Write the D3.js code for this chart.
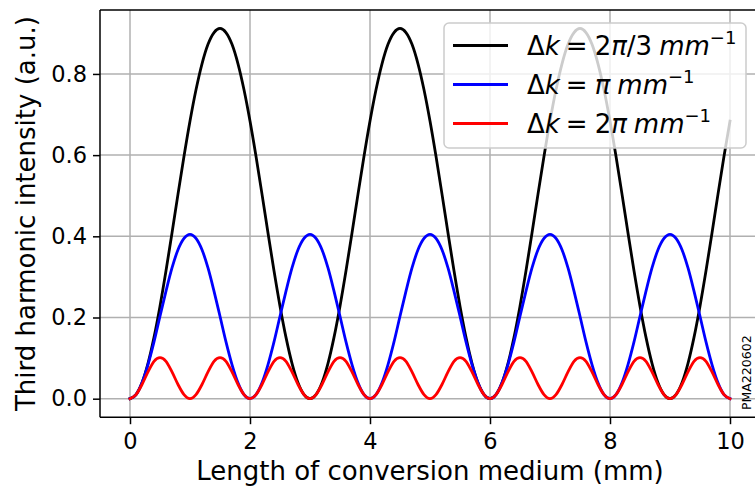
<!DOCTYPE html>
<html>
<head>
<meta charset="utf-8">
<script src="https://cdn.jsdelivr.net/npm/d3@7"></script>
<style>
  html, body { margin: 0; padding: 0; background: #fff; }
  svg { display: block; font-family: "DejaVu Sans", sans-serif; }
</style>
</head>
<body>
<svg id="chart" width="755" height="486"></svg>
<script>
// Sample positions along the medium (mm), every 0.1 mm from 0 to 10
const lengthMm = d3.range(101).map(i => i / 10);

// Third harmonic intensity (a.u.) for each phase mismatch
const intensityTwoPiThird = [
  0, 0.010, 0.039, 0.087, 0.151, 0.228, 0.315, 0.408, 0.504, 0.597,
  0.684, 0.761, 0.825, 0.873, 0.902, 0.912, 0.902, 0.873, 0.825, 0.761,
  0.684, 0.597, 0.504, 0.408, 0.315, 0.228, 0.151, 0.087, 0.039, 0.010,
  0, 0.010, 0.039, 0.087, 0.151, 0.228, 0.315, 0.408, 0.504, 0.597,
  0.684, 0.761, 0.825, 0.873, 0.902, 0.912, 0.902, 0.873, 0.825, 0.761,
  0.684, 0.597, 0.504, 0.408, 0.315, 0.228, 0.151, 0.087, 0.039, 0.010,
  0, 0.010, 0.039, 0.087, 0.151, 0.228, 0.315, 0.408, 0.504, 0.597,
  0.684, 0.761, 0.825, 0.873, 0.902, 0.912, 0.902, 0.873, 0.825, 0.761,
  0.684, 0.597, 0.504, 0.408, 0.315, 0.228, 0.151, 0.087, 0.039, 0.010,
  0, 0.010, 0.039, 0.087, 0.151, 0.228, 0.315, 0.408, 0.504, 0.597,
  0.684
];

const intensityPi = [
  0, 0.010, 0.039, 0.084, 0.140, 0.203, 0.265, 0.322, 0.367, 0.395,
  0.405, 0.395, 0.367, 0.322, 0.265, 0.203, 0.140, 0.084, 0.039, 0.010,
  0, 0.010, 0.039, 0.084, 0.140, 0.203, 0.265, 0.322, 0.367, 0.395,
  0.405, 0.395, 0.367, 0.322, 0.265, 0.203, 0.140, 0.084, 0.039, 0.010,
  0, 0.010, 0.039, 0.084, 0.140, 0.203, 0.265, 0.322, 0.367, 0.395,
  0.405, 0.395, 0.367, 0.322, 0.265, 0.203, 0.140, 0.084, 0.039, 0.010,
  0, 0.010, 0.039, 0.084, 0.140, 0.203, 0.265, 0.322, 0.367, 0.395,
  0.405, 0.395, 0.367, 0.322, 0.265, 0.203, 0.140, 0.084, 0.039, 0.010,
  0, 0.010, 0.039, 0.084, 0.140, 0.203, 0.265, 0.322, 0.367, 0.395,
  0.405, 0.395, 0.367, 0.322, 0.265, 0.203, 0.140, 0.084, 0.039, 0.010,
  0
];

const intensityTwoPi = [
  0, 0.010, 0.035, 0.066, 0.092, 0.101, 0.092, 0.066, 0.035, 0.010,
  0, 0.010, 0.035, 0.066, 0.092, 0.101, 0.092, 0.066, 0.035, 0.010,
  0, 0.010, 0.035, 0.066, 0.092, 0.101, 0.092, 0.066, 0.035, 0.010,
  0, 0.010, 0.035, 0.066, 0.092, 0.101, 0.092, 0.066, 0.035, 0.010,
  0, 0.010, 0.035, 0.066, 0.092, 0.101, 0.092, 0.066, 0.035, 0.010,
  0, 0.010, 0.035, 0.066, 0.092, 0.101, 0.092, 0.066, 0.035, 0.010,
  0, 0.010, 0.035, 0.066, 0.092, 0.101, 0.092, 0.066, 0.035, 0.010,
  0, 0.010, 0.035, 0.066, 0.092, 0.101, 0.092, 0.066, 0.035, 0.010,
  0, 0.010, 0.035, 0.066, 0.092, 0.101, 0.092, 0.066, 0.035, 0.010,
  0, 0.010, 0.035, 0.066, 0.092, 0.101, 0.092, 0.066, 0.035, 0.010,
  0
];

// Legend labels: coefficient of Δk, split into upright and italic (π) parts
const seriesLabels = [["2", "π", "/3"], ["", "π", ""], ["2", "π", ""]];
const seriesColors = ["#000000", "#0000ff", "#ff0000"];
const xTicks = [0, 2, 4, 6, 8, 10];
const yTicks = [0.0, 0.2, 0.4, 0.6, 0.8];
const xTitle = "Length of conversion medium (mm)";
const yTitle = "Third harmonic intensity (a.u.)";
const stampText = "PMA220602";

const series = [intensityTwoPiThird, intensityPi, intensityTwoPi].map((vals, i) => ({
  label: seriesLabels[i],
  color: seriesColors[i],
  points: vals.map((v, j) => [lengthMm[j], v])
}));

const svg = d3.select("#chart");
const plot = { left: 100, right: 760, top: 10, bottom: 417.2 };

const x = d3.scaleLinear().domain([-0.5, 10.5]).range([plot.left, plot.right]);
const y = d3.scaleLinear().domain([-0.0456, 0.9575]).range([plot.bottom, plot.top]);

// grid
const grid = svg.append("g").attr("stroke", "#b0b0b0").attr("stroke-width", 1.5);
xTicks.forEach(t => grid.append("line")
  .attr("x1", x(t)).attr("x2", x(t)).attr("y1", plot.top).attr("y2", plot.bottom));
yTicks.forEach(t => grid.append("line")
  .attr("x1", plot.left).attr("x2", plot.right).attr("y1", y(t)).attr("y2", y(t)));

// curves
const line = d3.line().x(d => x(d[0])).y(d => y(d[1])).curve(d3.curveMonotoneX);
svg.append("g").selectAll("path").data(series).join("path")
  .attr("d", d => line(d.points))
  .attr("fill", "none")
  .attr("stroke", d => d.color)
  .attr("stroke-width", 2.8)
  .attr("stroke-linejoin", "round")
  .attr("stroke-linecap", "square");

// axes
const xAxis = d3.axisBottom(x).tickValues(xTicks).tickFormat(d3.format("d"))
  .tickSizeInner(7).tickSizeOuter(0).tickPadding(9);
const yAxis = d3.axisLeft(y).tickValues(yTicks).tickFormat(d3.format(".1f"))
  .tickSizeInner(7).tickSizeOuter(0).tickPadding(6);

const gx = svg.append("g").attr("transform", `translate(0,${plot.bottom})`).call(xAxis);
const gy = svg.append("g").attr("transform", `translate(${plot.left},0)`).call(yAxis);
[gx, gy].forEach(g => {
  g.select(".domain").remove();
  g.selectAll(".tick line").attr("stroke", "#000").attr("stroke-width", 1.5);
  g.selectAll(".tick text").attr("fill", "#000")
    .style("font-family", "DejaVu Sans").style("font-size", "22.5px");
});

// spines
const spines = svg.append("g").attr("stroke", "#000").attr("stroke-width", 1.5).attr("fill", "none");
spines.append("line").attr("x1", plot.left).attr("x2", plot.left).attr("y1", plot.top).attr("y2", plot.bottom);
spines.append("line").attr("x1", plot.left).attr("x2", plot.right).attr("y1", plot.bottom).attr("y2", plot.bottom);
spines.append("line").attr("x1", plot.left).attr("x2", plot.right).attr("y1", plot.top).attr("y2", plot.top);

// axis titles
svg.append("text")
  .attr("x", (plot.left + plot.right) / 2).attr("y", 479.5)
  .attr("text-anchor", "middle").style("font-size", "26px").text(xTitle);
svg.append("text")
  .attr("transform", `translate(35,${(plot.top + plot.bottom) / 2}) rotate(-90)`)
  .attr("text-anchor", "middle").style("font-size", "26px").text(yTitle);

// legend
const legend = svg.append("g");
legend.append("rect")
  .attr("x", 444).attr("y", 23).attr("width", 302).attr("height", 125).attr("rx", 5)
  .attr("fill", "#fff").attr("fill-opacity", 0.8)
  .attr("stroke", "#cccccc").attr("stroke-width", 1.5);
series.forEach((s, i) => {
  const cy = 45.5 + i * 39;
  legend.append("line").attr("x1", 453).attr("x2", 508).attr("y1", cy).attr("y2", cy)
    .attr("stroke", s.color).attr("stroke-width", 2.8);
  const t = legend.append("text").attr("x", 527).attr("y", cy + 9.5).style("font-size", "26px");
  t.append("tspan").text("Δ");
  t.append("tspan").style("font-style", "italic").text("k");
  t.append("tspan").attr("dx", 6).text("=");
  const [pre, sym, post] = s.label;
  if (pre) t.append("tspan").attr("dx", 7).text(pre);
  t.append("tspan").attr("dx", pre ? 0 : 7).style("font-style", "italic").text(sym);
  if (post) t.append("tspan").text(post);
  t.append("tspan").attr("dx", 7).style("font-style", "italic").text("mm");
  t.append("tspan").attr("dy", -11).style("font-size", "18px").text("−1");
});

// sample stamp at the right edge
svg.append("text")
  .attr("transform", "translate(751,410) rotate(-90)")
  .style("font-size", "12.5px").text(stampText);
</script>
</body>
</html>
